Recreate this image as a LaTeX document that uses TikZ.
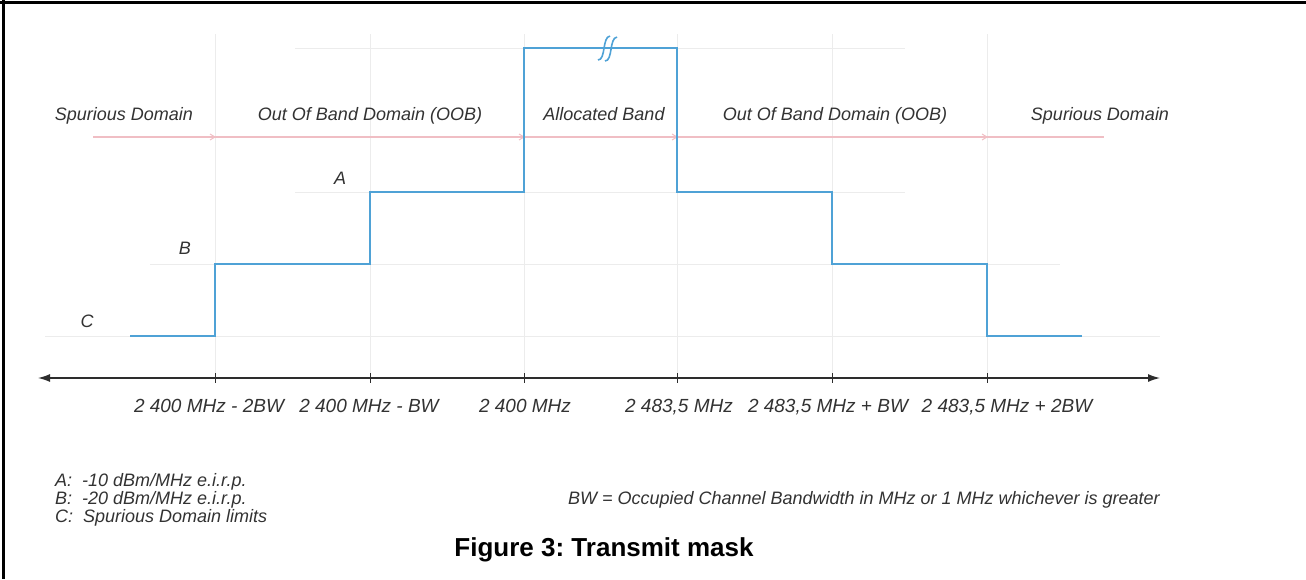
\documentclass[tikz,border=0pt]{standalone}
\usepackage{fontspec}
\setmainfont{Liberation Sans}
\usetikzlibrary{arrows.meta}
\frenchspacing

\begin{document}
\begin{tikzpicture}[x=1pt,y=-1pt,
	mask/.style={maskblue,line width=2pt},
	guide/.style={faintgray,line width=1pt},
	lbl/.style={font=\fontsize{18}{20}\selectfont\itshape,text=textgray,inner sep=0pt,text height=13pt,text depth=4pt},
	freq/.style={lbl,font=\fontsize{19}{21}\selectfont\itshape}]
	\definecolor{maskblue}{RGB}{79,162,214}
	\definecolor{faintgray}{RGB}{236,236,236}
	\definecolor{faintred}{RGB}{240,190,196}
	\definecolor{textgray}{RGB}{50,50,50}
	\definecolor{axisgray}{RGB}{45,45,45}
	
	\useasboundingbox (0,0) rectangle (1306,579);
	% frame of the table cell
	\draw[line width=3pt] (0,2.5) -- (1306,2.5);
	\draw[line width=3pt] (3,0) -- (3,579);
	
	% faint guide lines
	\foreach \x in {215,370,524,677,832,987}
		\draw[guide] (\x,34) -- (\x,378);
	\draw[guide] (295,48) -- (524,48);
	\draw[guide] (677,48) -- (905,48);
	\draw[guide] (295,192) -- (905,192);
	\draw[guide] (150,264) -- (1060,264);
	\draw[guide] (45,336) -- (1160,336);
	\draw[faintred,line width=1.2pt] (93,137) -- (1104,137);
	\foreach \x in {215,524,677,987}
		\draw[faintred,line width=1pt] (\x-5,134) -- (\x,137) -- (\x-5,140);
	
	% the mask
	\draw[mask] (130,336) -- (215,336) -- (215,264) -- (370,264) -- (370,192)
		-- (524,192) -- (524,48) -- (677,48) -- (677,192) -- (832,192)
		-- (832,264) -- (987,264) -- (987,336) -- (1082,336);
	\draw[mask,line width=1.6pt] (598,60) .. controls (606,60) and (602,37) .. (610,36);
	\draw[mask,line width=1.6pt] (605,61) .. controls (613,61) and (609,38) .. (617,37);
	
	% frequency axis
	\draw[axisgray,line width=1.3pt,{Latex[length=12pt,width=8pt]}-{Latex[length=12pt,width=8pt]}] (38,378) -- (1160,378);
	\foreach \x in {215,370,524,677,832,987}
		\draw[axisgray,line width=1pt] (\x,373) -- (\x,383);
	
	% domain labels
	\node[lbl] (spurL) at (124,116) {Spurious Domain};
	\node[lbl] (oobL) at (370,116) {Out Of Band Domain (OOB)};
	\node[lbl] (alloc) at (604,116) {Allocated Band};
	\node[lbl] (oobR) at (835,116) {Out Of Band Domain (OOB)};
	\node[lbl] (spurR) at (1100,116) {Spurious Domain};
	
	% level letters
	\node[lbl] (lvlA) at (340,180) {A};
	\node[lbl] (lvlB) at (185,250) {B};
	\node[lbl] (lvlC) at (87,323) {C};
	
	% frequencies
	\node[freq] (f1) at (209,408) {2 400 MHz - 2BW};
	\node[freq] (f2) at (369,408) {2 400 MHz - BW};
	\node[freq] (f3) at (525,408) {2 400 MHz};
	\node[freq] (f4) at (679,408) {2 483,5 MHz};
	\node[freq] (f5) at (828,408) {2 483,5 MHz + BW};
	\node[freq] (f6) at (1007,408) {2 483,5 MHz + 2BW};
	
	% notes
	\node[lbl,anchor=west] (noteA) at (55,482) {A:\ \ -10 dBm/MHz e.i.r.p.};
	\node[lbl,anchor=west] (noteB) at (55,500) {B:\ \ -20 dBm/MHz e.i.r.p.};
	\node[lbl,anchor=west] (noteC) at (55,518) {C:\ \ Spurious Domain limits};
	\node[lbl,anchor=east] (noteBW) at (1160,500) {BW = Occupied Channel Bandwidth in MHz or 1 MHz whichever is greater};
	
	\node[font=\fontsize{26}{28}\selectfont\bfseries,inner sep=0pt] (caption) at (604,550) {Figure 3: Transmit mask};
	
\end{tikzpicture}
\end{document}
